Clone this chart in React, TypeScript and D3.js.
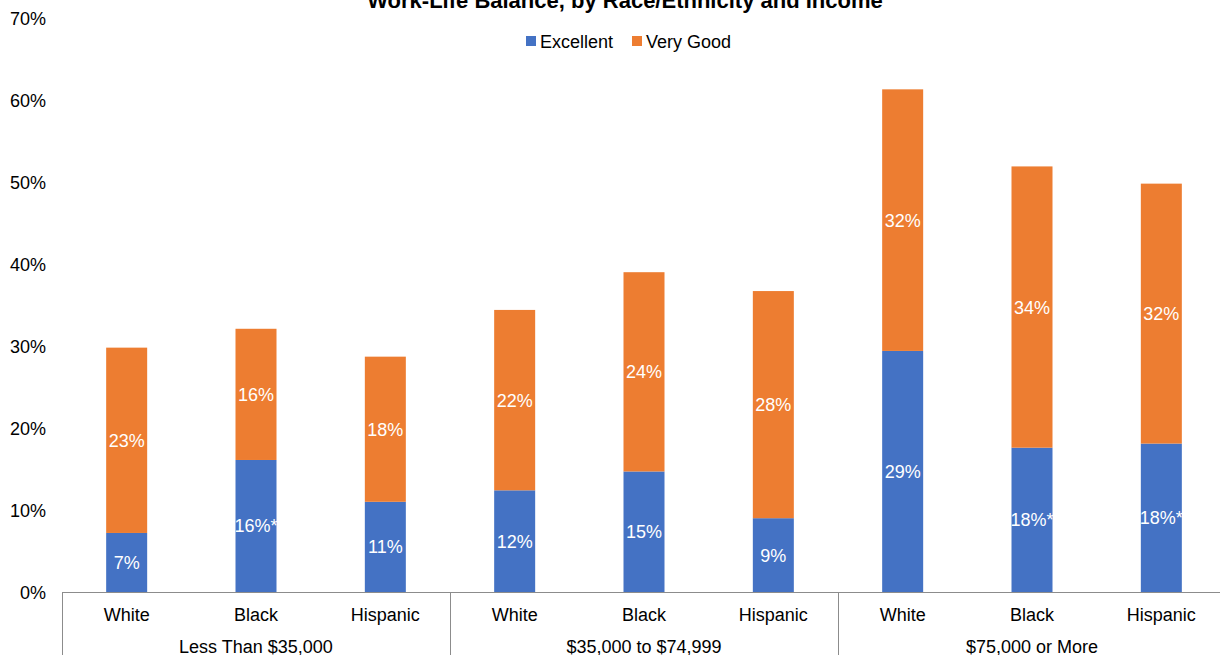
import React from "react";
import * as d3 from "d3";

const groups = ["Less Than $35,000", "$35,000 to $74,999", "$75,000 or More"];
const races = ["White", "Black", "Hispanic"];
const excellent = [7.2, 16.1, 11.0, 12.4, 14.7, 9.0, 29.4, 17.6, 18.1];
const veryGood = [22.6, 16.0, 17.7, 22.0, 24.3, 27.7, 31.9, 34.3, 31.7];
const excellentLabels = ["7%", "16%*", "11%", "12%", "15%", "9%", "29%", "18%*", "18%*"];
const veryGoodLabels = ["23%", "16%", "18%", "22%", "24%", "28%", "32%", "34%", "32%"];
const yTicks = [0, 10, 20, 30, 40, 50, 60, 70];
const seriesNames = ["Excellent", "Very Good"];
const colors = ["#4472C4", "#ED7D31"];

const W = 1220, H = 655;
const left = 62, right = 1226, top = 18, bottom = 592;
const font = "'Liberation Sans', Arial, sans-serif";

export default function App() {
  const bars = groups.flatMap((g, gi) => races.map((r, ri) => ({ key: `${gi}-${ri}`, idx: gi * 3 + ri, race: r })));
  const x = d3.scaleBand<number>().domain(d3.range(9)).range([left, right]).paddingInner(0).paddingOuter(0);
  const y = d3.scaleLinear().domain([0, 70]).range([bottom, top]);
  const bw = 41;
  const groupW = x.bandwidth() * 3;

  return (
    <div style={{ position: "absolute", left: 0, top: 0 }}>
      <svg width={W} height={H} style={{ display: "block", fontFamily: font }}>
        <rect width={W} height={H} fill="#fff" />
        <text x={625} y={8} textAnchor="middle" fontSize={22} fontWeight="bold" fill="#000">
          Work-Life Balance, by Race/Ethnicity and Income
        </text>
        {/* legend */}
        <g>
          <rect x={526} y={36} width={10} height={10} fill={colors[0]} />
          <text x={540} y={47.5} fontSize={18} fill="#000">{seriesNames[0]}</text>
          <rect x={632} y={36} width={10} height={10} fill={colors[1]} />
          <text x={646} y={47.5} fontSize={18} fill="#000">{seriesNames[1]}</text>
        </g>
        {/* y axis labels */}
        {yTicks.map((t) => (
          <text key={t} x={46} y={y(t) + 6.5} textAnchor="end" fontSize={18} fill="#000">{t}%</text>
        ))}
        {/* bars */}
        {bars.map((b) => {
          const cx = (x(b.idx) as number) + x.bandwidth() / 2;
          const e = excellent[b.idx];
          const v = veryGood[b.idx];
          return (
            <g key={b.key}>
              <rect x={cx - bw / 2} y={y(e)} width={bw} height={y(0) - y(e)} fill={colors[0]} />
              <rect x={cx - bw / 2} y={y(e + v)} width={bw} height={y(e) - y(e + v)} fill={colors[1]} />
              <text x={cx} y={(y(0) + y(e)) / 2 + 6.5} textAnchor="middle" fontSize={18} fill="#fff">{excellentLabels[b.idx]}</text>
              <text x={cx} y={(y(e) + y(e + v)) / 2 + 6.5} textAnchor="middle" fontSize={18} fill="#fff">{veryGoodLabels[b.idx]}</text>
              <text x={cx} y={620.5} textAnchor="middle" fontSize={18} fill="#000">{b.race}</text>
            </g>
          );
        })}
        {/* category axis */}
        <line x1={left} x2={W} y1={bottom + 0.5} y2={bottom + 0.5} stroke="#8c8c8c" strokeWidth={1} />
        {d3.range(3).map((i) => {
          const xx = Math.round(left + i * groupW) + 0.5;
          return <line key={i} x1={xx} x2={xx} y1={bottom} y2={H} stroke="#8c8c8c" strokeWidth={1} />;
        })}
        {groups.map((g, gi) => (
          <text key={g} x={left + gi * groupW + groupW / 2} y={652.5} textAnchor="middle" fontSize={18} fill="#000">{g}</text>
        ))}
      </svg>
    </div>
  );
}
